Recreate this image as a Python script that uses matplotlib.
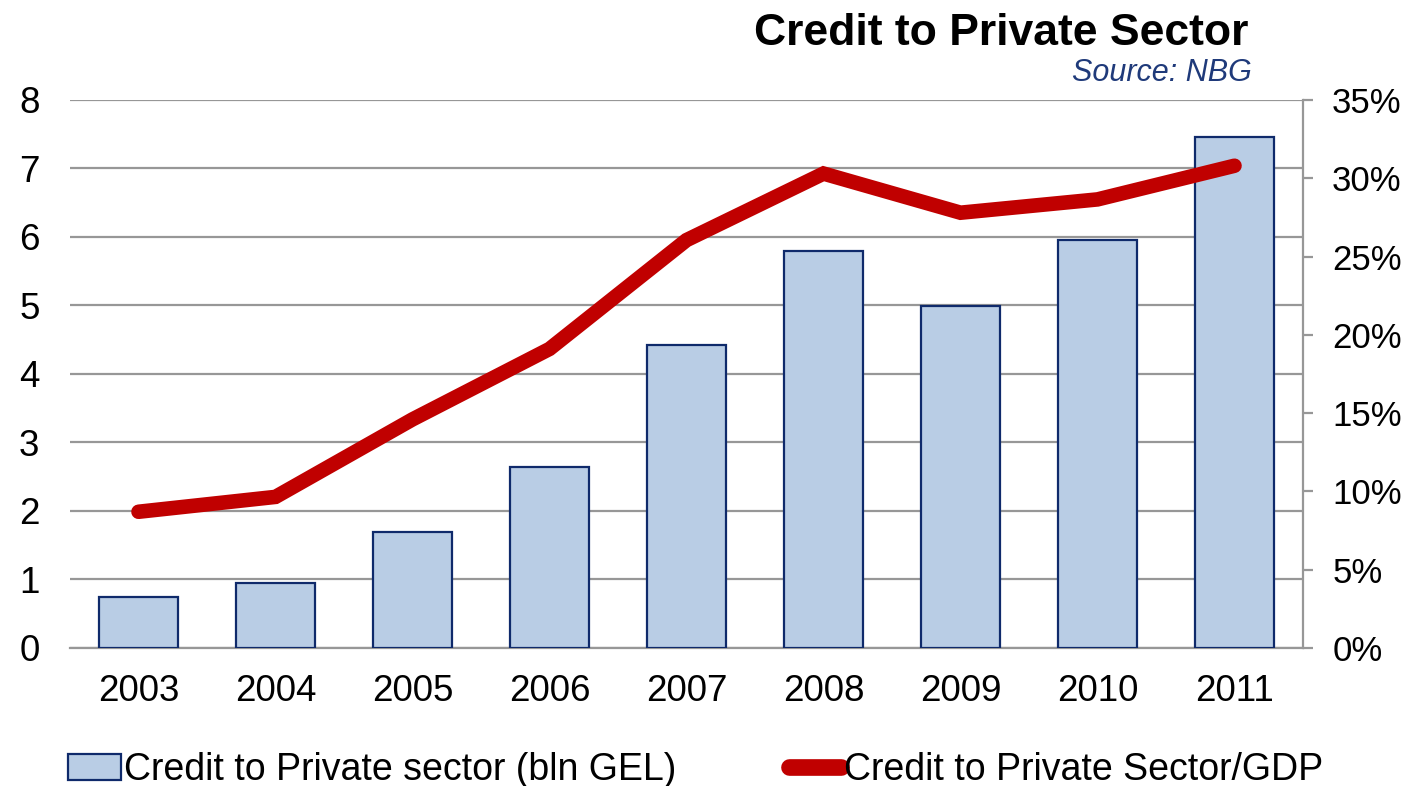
import matplotlib.pyplot as plt
from matplotlib.ticker import FuncFormatter

plt.rcParams['font.family'] = ['Liberation Sans', 'DejaVu Sans']

years = ['2003', '2004', '2005', '2006', '2007', '2008', '2009', '2010', '2011']
credit_bln_gel = [0.75, 0.95, 1.70, 2.64, 4.42, 5.80, 4.99, 5.96, 7.46]
credit_to_gdp = [8.7, 9.65, 14.6, 19.1, 26.05, 30.3, 27.8, 28.65, 30.8]

fig = plt.figure(figsize=(14.14, 7.86), dpi=100)
ax = fig.add_axes([0.0495, 0.1756, 0.872, 0.6972])
x = range(len(years))

ax.bar(x, credit_bln_gel, width=0.57, color='#B9CDE5', edgecolor='#0F2A6B',
       linewidth=1.6, zorder=3, label='Credit to Private sector (bln GEL)')
ax.set_xlim(-0.5, len(years) - 0.5)
ax.set_ylim(0, 8)
ax.set_yticks(range(0, 9))
ax.set_xticks(list(x))
ax.set_xticklabels(years)
ax.yaxis.grid(True, color='#979797', linewidth=1.6, zorder=0)
ax.set_axisbelow(True)
for s in ['top', 'left', 'right']:
    ax.spines[s].set_visible(False)
ax.spines['bottom'].set_color('#979797')
ax.spines['bottom'].set_linewidth(1.6)
ax.tick_params(axis='y', length=0, pad=22, labelsize=26.5)
ax.tick_params(axis='x', length=0, pad=19, labelsize=26.5)

ax2 = ax.twinx()
ax2.plot(x, credit_to_gdp, color='#C00000', linewidth=10.5, solid_capstyle='round',
         solid_joinstyle='miter', zorder=4, label='Credit to Private Sector/GDP')
ax2.set_ylim(0, 35)
ax2.set_yticks(range(0, 36, 5))
ax2.yaxis.set_major_formatter(FuncFormatter(lambda v, p: f'{v:.0f}%'))
for s in ['top', 'left', 'bottom']:
    ax2.spines[s].set_visible(False)
ax2.spines['right'].set_color('#979797')
ax2.spines['right'].set_linewidth(1.6)
ax2.tick_params(axis='y', direction='out', length=7, width=1.6, color='#979797',
                pad=14, labelsize=25)

fig.text(0.883, 0.958, 'Credit to Private Sector', ha='right', va='center',
         fontsize=32, fontweight='bold')
fig.text(0.885, 0.907, 'Source: NBG', ha='right', va='center',
         fontsize=22, style='italic', color='#1F3A7A')

h1, l1 = ax.get_legend_handles_labels()
h2, l2 = ax2.get_legend_handles_labels()
leg = fig.legend(h1 + h2, l1 + l2, loc='center', bbox_to_anchor=(0.492, 0.02), ncol=2,
                 frameon=False, fontsize=27, handlelength=1.4, handletextpad=0.08,
                 columnspacing=3.0)
leg.get_lines()[0].set_linewidth(12)

fig.savefig('out.png', dpi=100)
